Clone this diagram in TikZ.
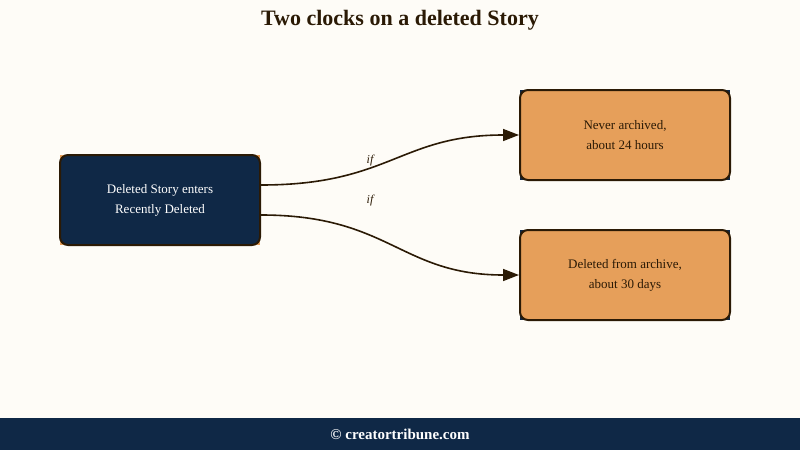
\documentclass[tikz,border=0pt]{standalone}
\usepackage{fontspec}
\setmainfont{Liberation Serif}
\usetikzlibrary{arrows.meta}
\definecolor{bg}{HTML}{FEFCF7}
\definecolor{navy}{HTML}{0F2846}
\definecolor{org}{HTML}{E69F5A}
\definecolor{ink}{HTML}{2B1A05}
\begin{document}
\begin{tikzpicture}[x=1pt,y=-1pt,
  box/.style={draw=ink,line width=2pt,rounded corners=8pt,minimum width=200pt,minimum height=90pt,align=center,font=\fontsize{13}{20}\selectfont},
  dark/.style={box,fill=navy,text=white},
  light/.style={box,fill=org,text=ink,minimum width=210pt},
  edge/.style={draw=ink,line width=1.6pt,-{Triangle[length=16pt,width=12pt]}},
  lab/.style={font=\itshape\fontsize{12}{12}\selectfont,text=ink}]
\fill[bg] (0,0) rectangle (800,450);
\useasboundingbox (0,0) rectangle (800,450);
\fill[navy] (0,418) rectangle (800,450);
\node[font=\bfseries\fontsize{15}{16}\selectfont,text=white] (foot) at (400,434) {© creatortribune.com};
\node[font=\bfseries\fontsize{22}{24}\selectfont,text=ink] (title) at (400,20) {Two clocks on a deleted Story};
\fill[org] (60,155) rectangle (260,245);
\fill[navy] (520,90) rectangle (730,180);
\fill[navy] (520,230) rectangle (730,320);
\node[dark] (a) at (160,200) {Deleted Story enters\\Recently Deleted};
\node[light] (b) at (625,135) {Never archived,\\about 24 hours};
\node[light] (c) at (625,275) {Deleted from archive,\\about 30 days};
\draw[edge] ([yshift=15pt]a.east) .. controls (390,185) and (400,135) .. (b.west);
\draw[edge] ([yshift=-15pt]a.east) .. controls (390,215) and (400,275) .. (c.west);
\node[lab] (l1) at (370,161) {if};
\node[lab] (l2) at (370,201) {if};
\end{tikzpicture}
\end{document}
